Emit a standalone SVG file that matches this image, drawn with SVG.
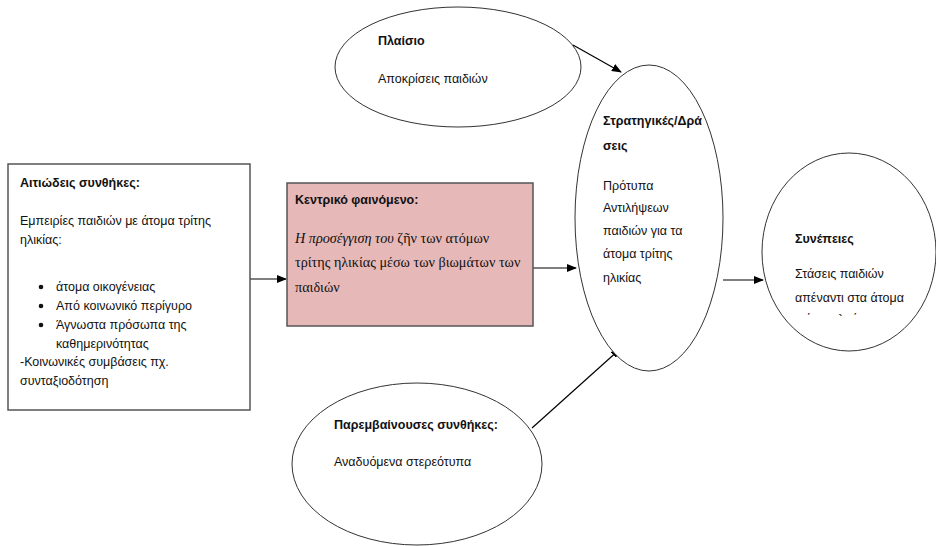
<svg xmlns="http://www.w3.org/2000/svg" width="936" height="546" viewBox="0 0 936 546">
<style>
text{font-family:"Liberation Sans","DejaVu Sans",sans-serif;font-size:12.5px;fill:#111}
.b{font-weight:bold}
.serif{font-family:"Liberation Serif","DejaVu Serif",serif;font-size:14.2px}
.shape{fill:#fff;stroke:#333;stroke-width:1}
.box{fill:#fff;stroke:#555;stroke-width:1.5}
.conn{fill:none;stroke:#000;stroke-width:1.2;marker-end:url(#ah)}
</style>
<defs>
<marker id="ah" markerWidth="10" markerHeight="8" refX="9" refY="4" orient="auto" markerUnits="userSpaceOnUse">
<path d="M0,0 L10,4 L0,8 z" fill="#000"/>
</marker>
<clipPath id="clipc"><rect x="760" y="150" width="176" height="166"/></clipPath>
</defs>
<rect width="936" height="546" fill="#fff"/>
<g id="connectors">
<line class="conn" x1="250" y1="279" x2="286" y2="279"/>
<line class="conn" x1="533" y1="268" x2="576" y2="268"/>
<line class="conn" x1="573" y1="45" x2="621" y2="72"/>
<line class="conn" x1="532" y1="428" x2="620" y2="349"/>
<line class="conn" x1="723" y1="280" x2="763" y2="280"/>
</g>
<g id="causal">
<rect class="box" x="8" y="164" width="242" height="246"/>
<text class="b" x="20" y="187">Αιτιώδεις συνθήκες:</text>
<text x="20" y="225">Εμπειρίες  παιδιών με άτομα τρίτης</text>
<text x="20" y="244">ηλικίας:</text>
<circle cx="41" cy="287" r="2.3" fill="#111"/>
<circle cx="41" cy="306" r="2.3" fill="#111"/>
<circle cx="41" cy="325" r="2.3" fill="#111"/>
<text x="56" y="291">άτομα οικογένειας</text>
<text x="56" y="310">Από κοινωνικό περίγυρο</text>
<text x="56" y="329">Άγνωστα πρόσωπα της</text>
<text x="56" y="348">καθημερινότητας</text>
<text x="20" y="366">-Κοινωνικές συμβάσεις πχ.</text>
<text x="20" y="385">συνταξιοδότηση</text>
</g>
<g id="central">
<rect x="287" y="183" width="246" height="143" fill="#e6b8b7" stroke="#555" stroke-width="1.5"/>
<text class="b" x="295" y="204">Κεντρικό φαινόμενο:</text>
<text class="serif" x="295" y="243"><tspan font-style="italic">Η προσέγγιση του</tspan> ζῆν των ατόμων</text>
<text class="serif" x="295" y="267">τρίτης ηλικίας μέσω των βιωμάτων των</text>
<text class="serif" x="295" y="292">παιδιών</text>
</g>
<g id="context">
<ellipse class="shape" cx="458" cy="67" rx="123" ry="60"/>
<text class="b" x="378" y="45">Πλαίσιο</text>
<text x="378" y="83">Αποκρίσεις παιδιών</text>
</g>
<g id="intervening">
<ellipse class="shape" cx="417" cy="464" rx="125" ry="81"/>
<text class="b" x="334" y="429">Παρεμβαίνουσες συνθήκες:</text>
<text x="334" y="466">Αναδυόμενα στερεότυπα</text>
</g>
<g id="strategies">
<ellipse class="shape" cx="649" cy="218" rx="74" ry="153"/>
<text class="b" x="603" y="125">Στρατηγικές/Δρά</text>
<text class="b" x="603" y="150">σεις</text>
<text x="603" y="190">Πρότυπα</text>
<text x="603" y="212">Αντιλήψεων</text>
<text x="603" y="235">παιδιών για τα</text>
<text x="603" y="258">άτομα τρίτης</text>
<text x="603" y="282">ηλικίας</text>
</g>
<g id="consequences">
<ellipse class="shape" cx="849" cy="252" rx="87" ry="99"/>
<text class="b" x="795" y="243">Συνέπειες</text>
<text x="795" y="278">Στάσεις παιδιών</text>
<text x="795" y="302">απέναντι στα άτομα</text>
<text x="795" y="323" clip-path="url(#clipc)">τρίτης ηλικίας</text>
</g>
</svg>
